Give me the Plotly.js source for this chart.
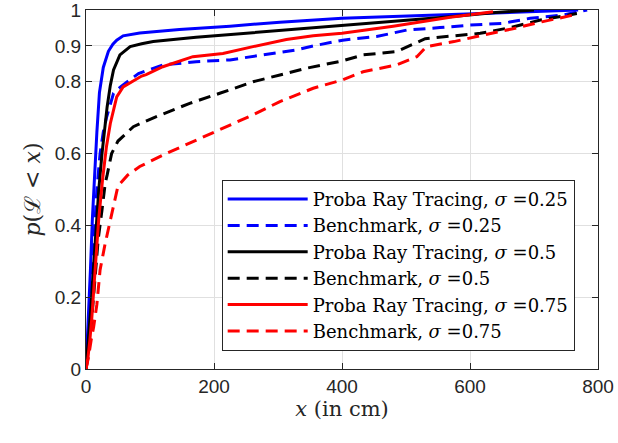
<!DOCTYPE html>
<html>
<head>
<meta charset="utf-8">
<script src="https://cdn.plot.ly/plotly-3.0.1.min.js"></script>
<style>html,body{margin:0;padding:0;background:#fff;}#chart{width:618px;height:443px;}</style>
</head>
<body>
<div id="chart"></div>
<script>
// Proba Ray Tracing, sigma = 0.25
const x_prt025 = [0, 4, 7, 10, 13, 17, 21, 27, 35, 42, 48, 58, 84, 146, 225, 303, 400, 480, 569, 650, 769];
const y_prt025 = [0, 0.15, 0.28, 0.42, 0.53, 0.66, 0.77, 0.84, 0.885, 0.905, 0.916, 0.928, 0.936, 0.946, 0.955, 0.966, 0.977, 0.982, 0.986, 0.992, 1.0];
// Benchmark, sigma = 0.25
const x_bm025 = [0, 4, 8, 12, 17, 22, 27, 32, 38, 43, 54, 65, 82, 120, 172, 225, 277, 329, 355, 401, 454, 501, 553, 600, 652, 694, 746, 783];
const y_bm025 = [0, 0.1, 0.22, 0.35, 0.5, 0.6, 0.66, 0.7, 0.74, 0.768, 0.786, 0.8, 0.823, 0.847, 0.856, 0.861, 0.875, 0.889, 0.9, 0.916, 0.926, 0.944, 0.951, 0.958, 0.963, 0.977, 0.986, 1.0];
// Proba Ray Tracing, sigma = 0.5
const x_prt05 = [0, 5, 8, 12, 16, 20, 25, 30, 33, 38, 43, 53, 69, 87, 105, 172, 250, 329, 400, 480, 569, 640, 700];
const y_prt05 = [0, 0.1, 0.18, 0.29, 0.4, 0.5, 0.6, 0.68, 0.73, 0.79, 0.833, 0.875, 0.898, 0.906, 0.912, 0.924, 0.935, 0.946, 0.956, 0.968, 0.981, 0.993, 1.0];
// Benchmark, sigma = 0.5
const x_bm05 = [0, 5, 9, 14, 19, 25, 30, 33, 40, 50, 74, 110, 162, 209, 261, 303, 345, 400, 433, 485, 530, 563, 616, 663, 710, 767];
const y_bm05 = [0, 0.06, 0.14, 0.26, 0.36, 0.443, 0.517, 0.54, 0.6, 0.635, 0.675, 0.703, 0.74, 0.768, 0.8, 0.819, 0.838, 0.858, 0.875, 0.884, 0.92, 0.926, 0.935, 0.951, 0.972, 0.99];
// Proba Ray Tracing, sigma = 0.75
const x_prt075 = [0, 3, 6, 9, 14, 20, 26, 32, 38, 48, 58, 87, 94, 120, 167, 214, 261, 313, 355, 400, 480, 569, 636];
const y_prt075 = [0, 0.03, 0.08, 0.14, 0.27, 0.42, 0.53, 0.62, 0.684, 0.758, 0.786, 0.816, 0.82, 0.842, 0.87, 0.879, 0.898, 0.918, 0.928, 0.935, 0.955, 0.98, 0.995];
// Benchmark, sigma = 0.75
const x_bm075 = [0, 4, 8, 12, 17, 22, 30, 40, 50, 65, 84, 125, 172, 214, 261, 303, 355, 400, 433, 485, 517, 532, 575, 620, 665, 712, 767];
const y_bm075 = [0, 0.034, 0.08, 0.118, 0.18, 0.276, 0.35, 0.434, 0.51, 0.54, 0.564, 0.6, 0.638, 0.67, 0.708, 0.745, 0.782, 0.805, 0.828, 0.847, 0.87, 0.898, 0.912, 0.93, 0.947, 0.967, 0.988];

const names = [
  'Proba Ray Tracing, <i>σ</i> =0.25',
  'Benchmark, <i>σ</i> =0.25',
  'Proba Ray Tracing, <i>σ</i> =0.5',
  'Benchmark, <i>σ</i> =0.5',
  'Proba Ray Tracing, <i>σ</i> =0.75',
  'Benchmark, <i>σ</i> =0.75'
];
const colors = ['#0000ff', '#0000ff', '#000000', '#000000', '#ff0000', '#ff0000'];
const dashes = ['solid', '12px,7px', 'solid', '12px,7px', 'solid', '12px,7px'];
const xs = [x_prt025, x_bm025, x_prt05, x_bm05, x_prt075, x_bm075];
const ys = [y_prt025, y_bm025, y_prt05, y_bm05, y_prt075, y_bm075];

const xTicks = [0, 200, 400, 600, 800];
const yTicks = [0, 0.2, 0.4, 0.6, 0.8, 0.9, 1];
const yTickText = ['0', '0.2', '0.4', '0.6', '0.8', '0.9', '1'];

const traces = xs.map((x, i) => ({
  x: x, y: ys[i], type: 'scatter', mode: 'lines', name: names[i],
  line: {color: colors[i], width: 3, dash: dashes[i]}
}));

const SERIF = 'DejaVu Serif';
const SANS = 'Liberation Sans';

const axisCommon = {
  showline: true, mirror: 'ticks', linecolor: '#262626', linewidth: 1,
  ticks: 'inside', ticklen: 6, tickcolor: '#262626',
  showgrid: true, gridcolor: '#e0e0e0', gridwidth: 1, zeroline: false,
  ticklabeloverflow: 'allow',
  tickfont: {family: SANS, size: 19, color: '#262626'}
};

const layout = {
  width: 618, height: 443,
  margin: {l: 86, r: 20, t: 10, b: 74},
  paper_bgcolor: '#ffffff', plot_bgcolor: '#ffffff',
  showlegend: true,
  xaxis: Object.assign({}, axisCommon, {
    range: [0, 800], tickvals: xTicks, ticktext: xTicks.map(String),
    title: {text: '<i>x</i> (in cm)', font: {family: SERIF, size: 21, color: '#262626'}, standoff: 4}
  }),
  yaxis: Object.assign({}, axisCommon, {
    range: [0, 1], tickvals: yTicks, ticktext: yTickText,
    title: {text: '<i>p</i>(ℒ &lt; <i>x</i>)', font: {family: SERIF, size: 22, color: '#262626'}, standoff: 8}
  }),
  legend: {
    x: 0.265, y: 0.527, xanchor: 'left', yanchor: 'top',
    bgcolor: '#ffffff', bordercolor: '#262626', borderwidth: 1,
    font: {family: SERIF, size: 18, color: '#000000'},
    itemwidth: 80, tracegroupgap: 0
  }
};

Plotly.newPlot('chart', traces, layout, {displayModeBar: false, staticPlot: true});
</script>
</body>
</html>
